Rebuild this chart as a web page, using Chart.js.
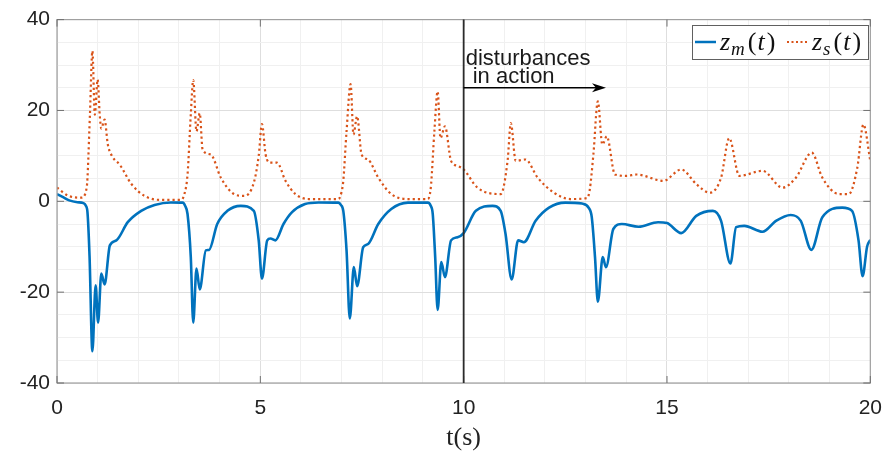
<!DOCTYPE html>
<html>
<head>
<meta charset="utf-8">
<script src="https://cdn.jsdelivr.net/npm/chart.js@4.4.0/dist/chart.umd.min.js"></script>
<style>
  html, body { margin: 0; padding: 0; background: #fff; }
  #wrap { width: 895px; height: 461px; }
</style>
</head>
<body>
<div id="wrap"><canvas id="chart"></canvas></div>
<script>
// ==================== DATA ====================
// z_m(t): time samples and values
const tM = [0, 0.15, 0.3, 0.5, 0.65, 0.71, 0.75, 0.8, 0.87, 0.95, 1.01, 1.09, 1.17, 1.3, 1.46, 1.74, 2.07, 2.4, 2.8,
  3.09, 3.15, 3.21, 3.29, 3.35, 3.43, 3.51, 3.66, 3.74, 3.94, 4.19, 4.52, 4.84, 4.96, 5.04, 5.17, 5.25, 5.37, 5.57,
  5.78, 6.1, 6.43, 6.92, 6.98, 7.04, 7.12, 7.2, 7.3, 7.38, 7.53, 7.65, 7.9, 8.22, 8.63, 9.12, 9.19, 9.24, 9.3, 9.36, 9.45,
  9.54, 9.69, 9.85, 10.0, 10.3, 10.71, 10.91, 11.03, 11.18, 11.34, 11.48, 11.77, 12.1, 12.5, 12.91, 13.08, 13.15,
  13.23, 13.3, 13.42, 13.5, 13.68, 13.89, 14.3, 14.78, 15.0, 15.35, 15.72, 16.13, 16.33, 16.56, 16.7, 16.9,
  17.35, 17.68, 18.04, 18.29, 18.55, 18.82, 19.31, 19.55, 19.71, 19.81, 19.92, 20.0];
const zM = [1.6, 0.9, 0.2, -0.2, -0.4, -1.0, -2.5, -12, -33, -18.5, -26.7, -15.9, -18.3, -9.7, -8.6, -4.6, -2.1, -0.8, -0.25,
  -0.3, -1.0, -2.8, -12.3, -26.7, -14.8, -19.4, -10.8, -10.7, -5.0, -2.1, -1.0, -2.1, -8.6, -17.0, -8.6, -8.2, -8.6, -5.0,
  -2.4, -0.6, -0.25, -0.3, -0.8, -2.1, -10.8, -25.8, -14.5, -18.7, -10.1, -9.4, -5.0, -1.7, -0.3, -0.3, -1.0, -2.8, -12.3, -23.9, -13.4,
  -16.7, -8.6, -7.9, -7.0, -2.1, -1.0, -2.1, -7.2, -17.2, -8.6, -9.0, -4.3, -1.4, -0.3, -0.5, -1.5, -3.5,
  -12.3, -22.1, -12.3, -14.5, -6.1, -5.0, -5.6, -4.6, -4.8, -7.0, -3.2, -2.1, -4.3, -13.7, -5.7, -5.4,
  -6.7, -4.3, -3.0, -4.3, -10.7, -3.5, -1.4, -2.1, -8.6, -16.5, -10, -8.5];

// z_s(t): time samples and values
const tS = [0, 0.28, 0.6, 0.73, 0.81, 0.87, 0.93, 1.0, 1.05, 1.09, 1.17, 1.25, 1.38, 1.54, 1.83, 2.15, 2.56, 3.05,
  3.13, 3.21, 3.29, 3.35, 3.43, 3.51, 3.58, 3.78, 4.03, 4.35, 4.6, 4.84, 4.96, 5.04, 5.13, 5.25, 5.41, 5.62, 5.86,
  6.19, 6.92, 6.99, 7.04, 7.12, 7.22, 7.29, 7.38, 7.49, 7.65, 7.9, 8.22, 8.63, 9.12, 9.17, 9.2, 9.28, 9.36, 9.43, 9.54,
  9.69, 9.85, 10.0, 10.34, 10.91, 11.08, 11.16, 11.28, 11.52, 11.82, 12.22, 12.62, 13.03, 13.1, 13.19, 13.3, 13.41,
  13.52, 13.72, 14.01, 14.25, 14.91, 15.35, 15.72, 16.05, 16.33, 16.53, 16.78, 17.35, 17.84, 18.17, 18.56,
  18.82, 19.23, 19.47, 19.68, 19.83, 20.0];
const zS = [3.0, 1.2, 0.8, 3.0, 19.1, 33.1, 19.1, 26.8, 19.1, 16.0, 18.0, 12.5, 9.6, 8.1, 3.8, 1.2, 0.3, 0.3,
  1.5, 5.9, 19.1, 26.7, 15.4, 19.4, 11.4, 10.3, 5.2, 1.6, 1.2, 4.1, 10, 17.0, 10.3, 8.5, 8.5, 4.5, 1.6,
  0.5, 0.5, 1.8, 4.5, 15.4, 25.8, 14.7, 18.7, 10.3, 9.2, 5.2, 1.6, 0.5, 0.5, 1.6, 3.8, 15.4, 24.2, 13.9, 16.5,
  8.9, 7.8, 7.0, 3.0, 1.6, 8.9, 17.2, 8.9, 9.2, 5.2, 1.9, 0.5, 0.7, 2.5, 10.3, 22.0, 12.5,
  14.3, 5.9, 5.6, 5.9, 4.5, 7.0, 3.8, 1.9, 5.2, 13.9, 5.6, 6.7, 3.0, 5.2, 10.7,
  5.2, 1.6, 1.6, 7.4, 16.9, 8.9];

const xMajorTicks = [0, 5, 10, 15, 20];
const yMajorTicks = [-40, -20, 0, 20, 40];
const disturbanceStart = 10;   // s
const arrowEnd = 13.5;         // s
const arrowLevel = 25;

const blue = '#0072BD';
const orange = '#D95319';

// ==================== ANNOTATION / FRAME PLUGIN ====================
const decorPlugin = {
  id: 'decor',
  afterDatasetsDraw(chart) {
    const { ctx, chartArea: a, scales: { x, y } } = chart;
    ctx.save();

    // axes box
    ctx.strokeStyle = '#a0a0a0';
    ctx.lineWidth = 1.2;
    ctx.strokeRect(a.left, a.top, a.right - a.left, a.bottom - a.top);

    // inward tick marks on all four sides
    ctx.strokeStyle = '#707070';
    ctx.lineWidth = 1;
    ctx.beginPath();
    xMajorTicks.forEach(v => {
      const px = x.getPixelForValue(v);
      ctx.moveTo(px, a.bottom); ctx.lineTo(px, a.bottom - 7);
      ctx.moveTo(px, a.top); ctx.lineTo(px, a.top + 7);
    });
    yMajorTicks.forEach(v => {
      const py = y.getPixelForValue(v);
      ctx.moveTo(a.left, py); ctx.lineTo(a.left + 7, py);
      ctx.moveTo(a.right, py); ctx.lineTo(a.right - 7, py);
    });
    ctx.stroke();

    // vertical line where disturbances start
    const xd = x.getPixelForValue(disturbanceStart);
    ctx.strokeStyle = '#2b2b2b';
    ctx.lineWidth = 1.8;
    ctx.beginPath();
    ctx.moveTo(xd, a.top);
    ctx.lineTo(xd, a.bottom);
    ctx.stroke();

    // arrow
    const ya = y.getPixelForValue(arrowLevel);
    const xe = x.getPixelForValue(arrowEnd);
    ctx.strokeStyle = '#000';
    ctx.lineWidth = 1.6;
    ctx.beginPath();
    ctx.moveTo(xd, ya);
    ctx.lineTo(xe - 8, ya);
    ctx.stroke();
    ctx.fillStyle = '#000';
    ctx.beginPath();
    ctx.moveTo(xe, ya);
    ctx.lineTo(xe - 14, ya - 4.5);
    ctx.lineTo(xe - 10, ya);
    ctx.lineTo(xe - 14, ya + 4.5);
    ctx.closePath();
    ctx.fill();

    // annotation text
    ctx.fillStyle = '#1a1a1a';
    ctx.font = '22px "Liberation Sans", Arial, sans-serif';
    ctx.textBaseline = 'alphabetic';
    ctx.textAlign = 'left';
    ctx.fillText('disturbances', xd + 2, ya - 23);
    ctx.fillText('in action', xd + 9, ya - 5);

    // legend
    const lx = 692, ly = 25, lw = 176, lh = 34;
    ctx.fillStyle = '#fff';
    ctx.fillRect(lx, ly, lw, lh);
    ctx.strokeStyle = '#606060';
    ctx.lineWidth = 1;
    ctx.strokeRect(lx + 0.5, ly + 0.5, lw, lh);
    const cy = ly + 17;
    ctx.lineWidth = 2.5;
    ctx.strokeStyle = blue;
    ctx.beginPath(); ctx.moveTo(lx + 3, cy); ctx.lineTo(lx + 24, cy); ctx.stroke();
    ctx.lineWidth = 2;
    ctx.strokeStyle = orange;
    ctx.setLineDash([2, 2.5]);
    ctx.beginPath(); ctx.moveTo(lx + 95, cy); ctx.lineTo(lx + 116, cy); ctx.stroke();
    ctx.setLineDash([]);

    const serif = '"Liberation Serif", "DejaVu Serif", serif';
    const drawMath = (x0, sub) => {
      const base = cy + 8;
      let cx = x0;
      ctx.fillStyle = '#111';
      ctx.font = 'italic 26px ' + serif;
      ctx.fillText('z', cx, base); cx += ctx.measureText('z').width + 1;
      ctx.font = 'italic 19px ' + serif;
      ctx.fillText(sub, cx, base + 5); cx += ctx.measureText(sub).width + 3;
      ctx.font = '26px ' + serif;
      ctx.fillText('(', cx, base); cx += ctx.measureText('(').width + 1;
      ctx.font = 'italic 26px ' + serif;
      ctx.fillText('t', cx, base); cx += ctx.measureText('t').width + 2;
      ctx.font = '26px ' + serif;
      ctx.fillText(')', cx, base);
    };
    drawMath(lx + 28, 'm');
    drawMath(lx + 120, 's');

    ctx.restore();
  }
};

// ==================== CHART ====================
const gridColor = (ctx, step) => (ctx.tick && ctx.tick.value % step === 0) ? '#dedede' : '#f0f0f0';

const chart = new Chart(document.getElementById('chart').getContext('2d'), {
  type: 'line',
  data: {
    datasets: [
      {
        label: 'z_s(t)',
        data: tS.map((t, i) => ({ x: t, y: zS[i] })),
        borderColor: orange,
        borderWidth: 2.2,
        borderDash: [2.2, 3],
        pointRadius: 0,
        fill: false,
        cubicInterpolationMode: 'monotone',
        order: 0
      },
      {
        label: 'z_m(t)',
        data: tM.map((t, i) => ({ x: t, y: zM[i] })),
        borderColor: blue,
        borderWidth: 2.6,
        pointRadius: 0,
        fill: false,
        cubicInterpolationMode: 'monotone',
        order: 1
      }
    ]
  },
  options: {
    responsive: true,
    maintainAspectRatio: false,
    animation: false,
    layout: { padding: { top: 17, right: 20, left: 0, bottom: 0 } },
    plugins: { legend: { display: false }, tooltip: { enabled: false } },
    scales: {
      x: {
        type: 'linear', min: 0, max: 20,
        border: { display: false },
        grid: { color: c => gridColor(c, 5), drawTicks: false, lineWidth: 1 },
        ticks: {
          stepSize: 1, autoSkip: false, maxRotation: 0, padding: 13,
          color: '#222', font: { family: '"Liberation Sans", Arial, sans-serif', size: 21 },
          callback: v => (v % 5 === 0 ? v : '')
        },
        title: {
          display: true, text: 't(s)', color: '#222',
          font: { family: '"Liberation Serif", "Times New Roman", serif', size: 26 },
          padding: { top: 0, bottom: 7 }
        },
        afterFit: s => { s.height = 78; }
      },
      y: {
        type: 'linear', min: -40, max: 40,
        border: { display: false },
        grid: { color: c => gridColor(c, 20), drawTicks: false, lineWidth: 1 },
        ticks: {
          stepSize: 5, autoSkip: false, padding: 7,
          color: '#222', font: { family: '"Liberation Sans", Arial, sans-serif', size: 21 },
          callback: v => (v % 20 === 0 ? v : '')
        },
        afterFit: s => { s.width = 57; }
      }
    }
  },
  plugins: [decorPlugin]
});
</script>
</body>
</html>
